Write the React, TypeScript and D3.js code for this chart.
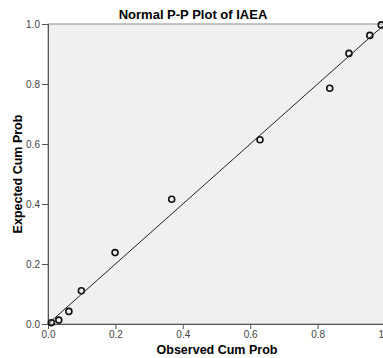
import React, { useEffect, useRef } from "react";
import * as d3 from "d3";

// observed vs expected cumulative probability
const observed = [0.01, 0.032, 0.062, 0.099, 0.199, 0.367, 0.629, 0.836, 0.893, 0.955, 0.989];
const expected = [0.004, 0.013, 0.042, 0.111, 0.238, 0.416, 0.614, 0.786, 0.902, 0.962, 0.997];
const tickValues = [0, 0.2, 0.4, 0.6, 0.8, 1.0];

const PPPlot = () => {
  const svgRef = useRef<SVGSVGElement>(null);

  useEffect(() => {
    const width = 383;
    const height = 358;
    const margin = { top: 24, right: -2, bottom: 34, left: 48 };

    const svg = d3.select(svgRef.current)
      .attr("width", width)
      .attr("height", height);

    svg.selectAll("*").remove();

    const xScale = d3.scaleLinear()
      .domain([0, 1])
      .range([margin.left, width - margin.right]);

    const yScale = d3.scaleLinear()
      .domain([0, 1])
      .range([height - margin.bottom, margin.top]);

    // plot background
    svg.append("rect")
      .attr("x", xScale(0))
      .attr("y", yScale(1))
      .attr("width", xScale(1) - xScale(0))
      .attr("height", yScale(0) - yScale(1))
      .attr("fill", "#f0f0f0")
      .attr("stroke", "#8c8c8c")
      .attr("stroke-width", 1);

    const xAxis = svg.append("g")
      .attr("transform", `translate(0,${yScale(0)})`)
      .call(d3.axisBottom(xScale).tickValues(tickValues).tickFormat(d3.format(".1f")).tickSizeOuter(0).tickSize(5).tickPadding(2));

    const yAxis = svg.append("g")
      .attr("transform", `translate(${xScale(0)},0)`)
      .call(d3.axisLeft(yScale).tickValues(tickValues).tickFormat(d3.format(".1f")).tickSizeOuter(0).tickSize(6).tickPadding(2));

    [xAxis, yAxis].forEach(ax => {
      ax.select(".domain").attr("stroke", "#555");
      ax.selectAll(".tick line").attr("stroke", "#555");
      ax.selectAll(".tick text")
        .attr("fill", "#444")
        .style("font-family", "Liberation Sans, Arial, sans-serif")
        .style("font-size", "10px");
    });

    // reference line
    svg.append("line")
      .attr("x1", xScale(0))
      .attr("y1", yScale(0))
      .attr("x2", xScale(1))
      .attr("y2", yScale(1))
      .attr("stroke", "#222")
      .attr("stroke-width", 1);

    svg.append("g")
      .selectAll("circle")
      .data(observed.map((o, i) => [o, expected[i]]))
      .join("circle")
      .attr("cx", d => xScale(d[0]))
      .attr("cy", d => yScale(d[1]))
      .attr("r", 3)
      .attr("fill", "none")
      .attr("stroke", "#111")
      .attr("stroke-width", 1.6);

    svg.append("text")
      .attr("x", 193)
      .attr("y", 19)
      .attr("text-anchor", "middle")
      .style("font-family", "Liberation Sans, Arial, sans-serif")
      .style("font-weight", "bold")
      .style("font-size", "13px")
      .text("Normal P-P Plot of IAEA");

    svg.append("text")
      .attr("x", 217)
      .attr("y", 354)
      .attr("text-anchor", "middle")
      .style("font-family", "Liberation Sans, Arial, sans-serif")
      .style("font-weight", "bold")
      .style("font-size", "12.5px")
      .text("Observed Cum Prob");

    svg.append("text")
      .attr("transform", "rotate(-90)")
      .attr("x", -(yScale(0) + yScale(1)) / 2)
      .attr("y", 22)
      .attr("text-anchor", "middle")
      .style("font-family", "Liberation Sans, Arial, sans-serif")
      .style("font-weight", "bold")
      .style("font-size", "12.5px")
      .text("Expected Cum Prob");
  }, []);

  return <svg ref={svgRef} style={{ position: "absolute", left: 0, top: 0, background: "#fff" }}></svg>;
};

export default function App() {
  return <PPPlot />;
}
